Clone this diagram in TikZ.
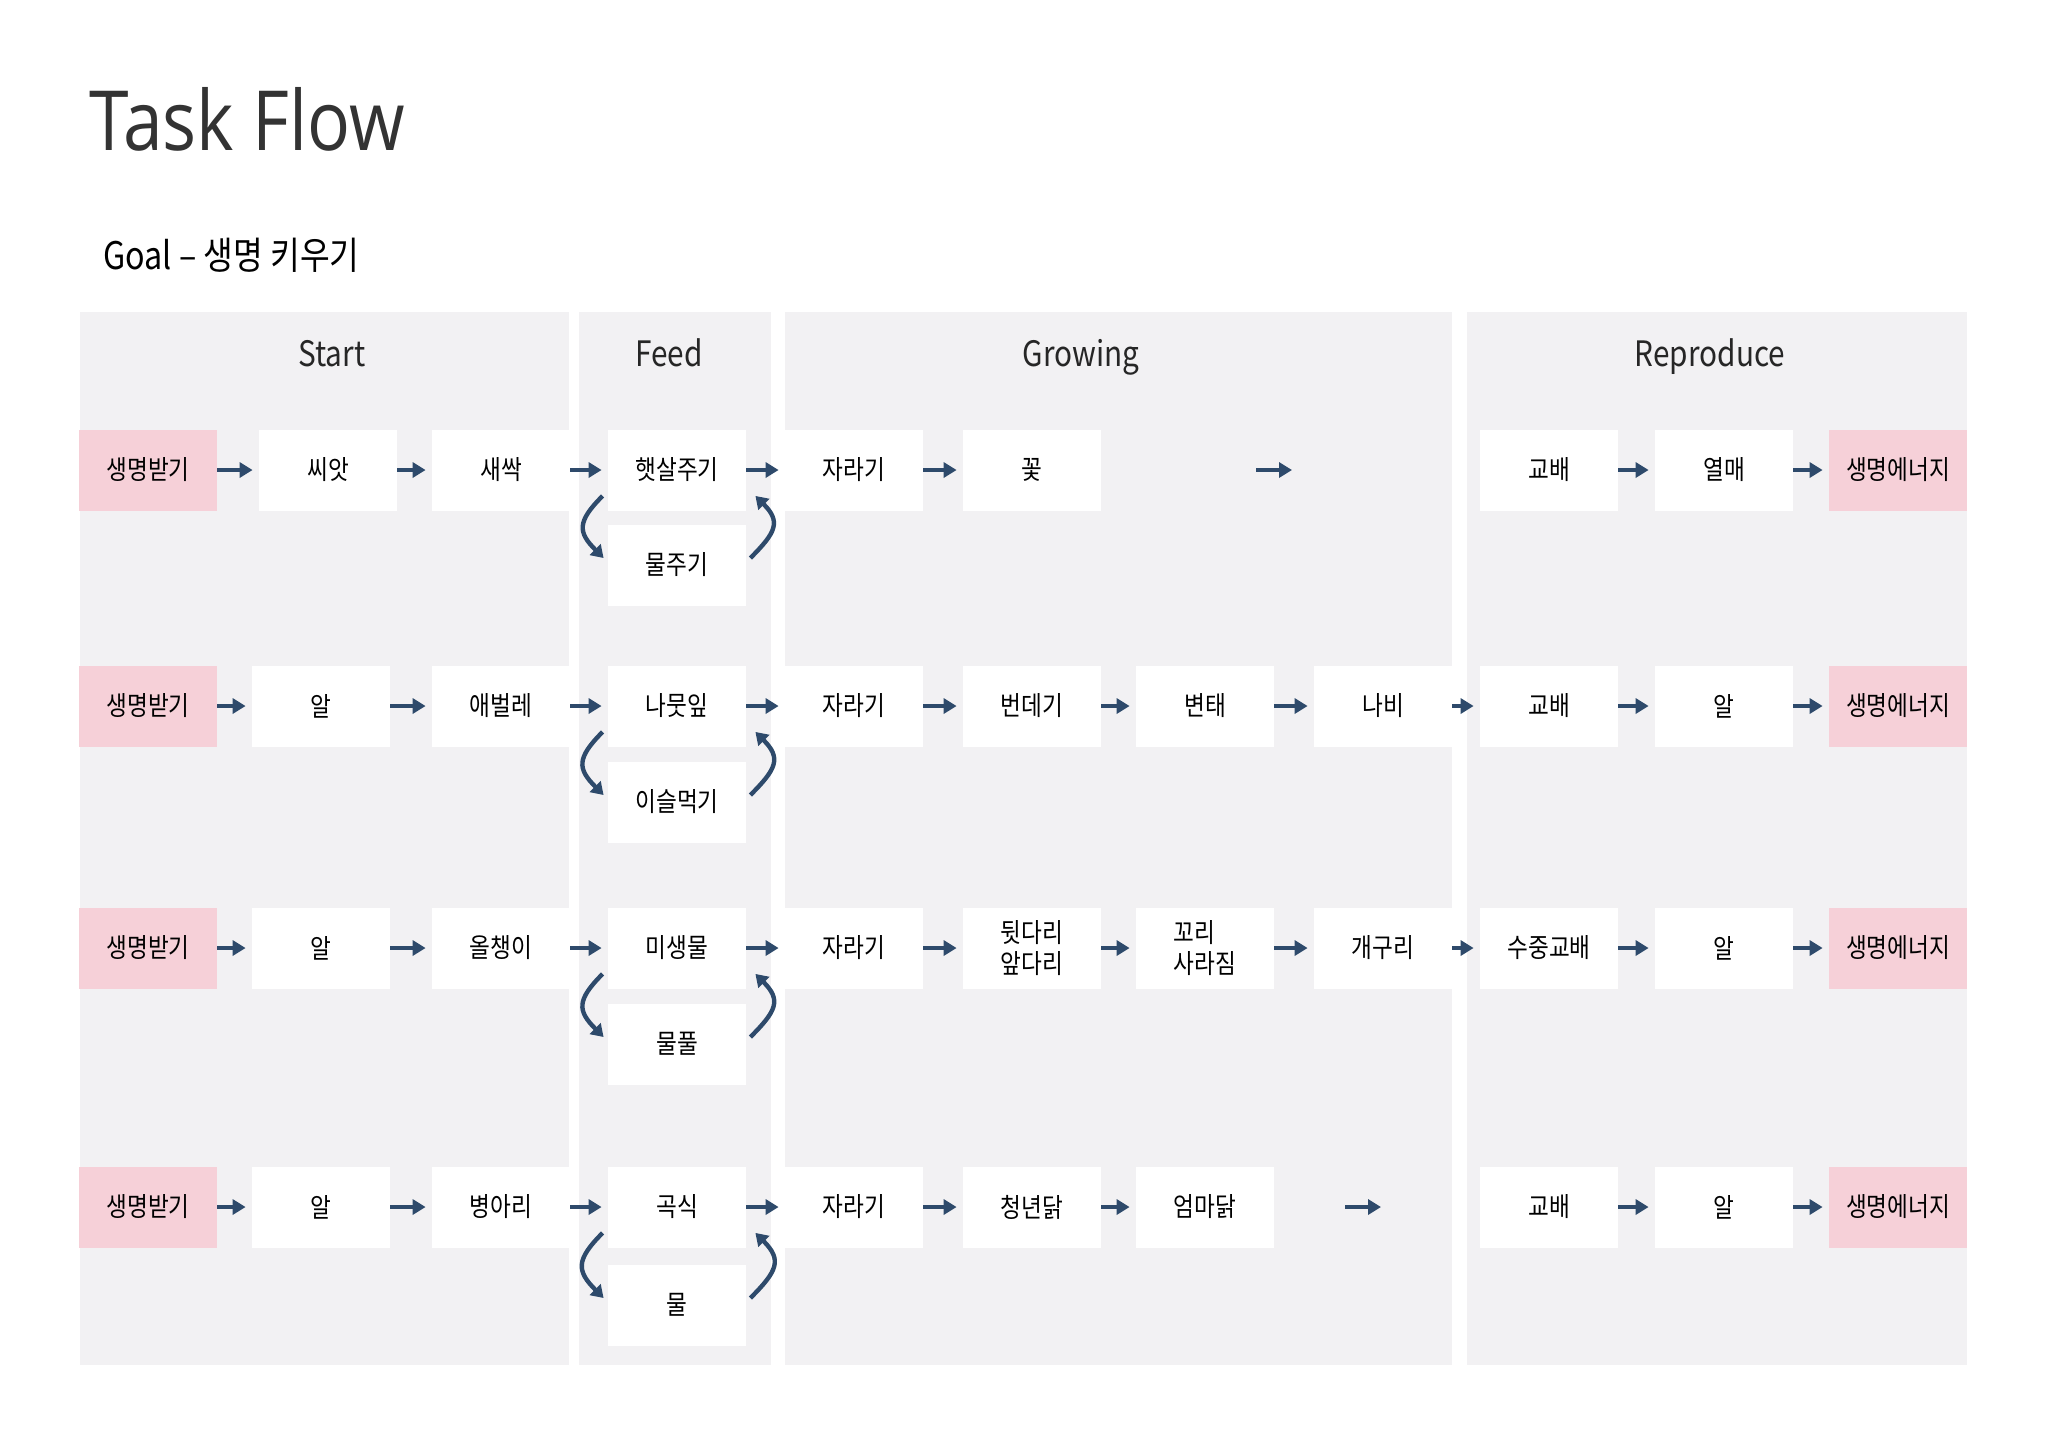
\documentclass[tikz,border=0pt]{standalone}
\usepackage{fontspec}
\setmainfont[FakeStretch=0.85]{Noto Sans CJK KR}
\newfontfamily\titlefont[FakeStretch=0.86]{Open Sans}
\usetikzlibrary{arrows.meta}
\definecolor{panelgray}{HTML}{F2F1F3}
\definecolor{lifepink}{HTML}{F6D0D8}
\definecolor{flowblue}{HTML}{2E4A6B}
\begin{document}
\begin{tikzpicture}[x=0.5pt,y=-0.5pt,
  box/.style={fill=white,minimum width=69pt,minimum height=40.5pt,inner sep=0pt,
    font=\fontsize{13.3}{15.5}\selectfont,text=black},
  life/.style={box,fill=lifepink},
  panel/.style={fill=panelgray},
  phase/.style={anchor=base,font=\fontsize{17.5}{21}\selectfont,text=black!85},
  flowarrow/.style={-{Triangle[length=6.5pt,width=7.5pt]},line width=2.4pt,draw=flowblue,shorten >=3pt},
  feedloop/.style={-{Triangle[length=6pt,width=7.5pt]},line width=2.2pt,draw=flowblue,looseness=1.5}]
\useasboundingbox (0,0) rectangle (2048,1448);
\fill[white] (0,0) rectangle (2048,1448);
% title
\node[anchor=base west,inner sep=0pt,text=black!80,font=\titlefont\fontsize{41.5}{45}\selectfont] (title) at (89,150) {Task Flow};
\node[anchor=base west,inner sep=0pt,font=\fontsize{19}{23}\selectfont] (goal) at (103,269) {Goal – 생명 키우기};
% panels
\fill[panel] (80,312) rectangle (569,1365);
\fill[panel] (579,312) rectangle (771,1365);
\fill[panel] (785,312) rectangle (1452,1365);
\fill[panel] (1467,312) rectangle (1967,1365);
\node[phase] (pstart) at (332,366) {Start};
\node[phase] (pfeed) at (669,366) {Feed};
\node[phase] (pgrow) at (1081,366) {Growing};
\node[phase] (prepro) at (1710,366) {Reproduce};

% row 1 - plant
\node[life] (lifeA) at (148,470) {생명받기};
\node[box] (seed) at (328,470) {씨앗};
\node[box] (sprout) at (501,470) {새싹};
\node[box] (sun) at (677,470) {햇살주기};
\node[box] (water) at (677,565) {물주기};
\node[box] (growA) at (854,470) {자라기};
\node[box] (flower) at (1032,470) {꽃};
\coordinate (gapA) at (1256,470);
\coordinate (gapB) at (1298,470);
\node[box] (mateA) at (1549,470) {교배};
\node[box] (fruit) at (1724,470) {열매};
\node[life] (energyA) at (1898,470) {생명에너지};
\draw[flowarrow] (lifeA) -- (seed);
\draw[flowarrow] (seed) -- (sprout);
\draw[flowarrow] (sprout) -- (sun);
\draw[flowarrow] (sun) -- (growA);
\draw[flowarrow] (growA) -- (flower);
\draw[flowarrow] (gapA) -- (gapB);
\draw[flowarrow] (mateA) -- (fruit);
\draw[flowarrow] (fruit) -- (energyA);
\draw[feedloop] ([xshift=-2.5pt,yshift=7.5pt]sun.south west) to[out=-135,in=135] ([xshift=-2pt,yshift=3.5pt]water.west);
\draw[feedloop] ([xshift=2pt,yshift=3.5pt]water.east) to[out=45,in=-45] ([xshift=4.5pt,yshift=7.5pt]sun.south east);

% row 2 - butterfly
\node[life] (lifeB) at (148,706) {생명받기};
\node[box] (eggB) at (321,706) {알};
\node[box] (larva) at (501,706) {애벌레};
\node[box] (leaf) at (677,706) {나뭇잎};
\node[box] (dew) at (677,802) {이슬먹기};
\node[box] (growB) at (854,706) {자라기};
\node[box] (pupa) at (1032,706) {번데기};
\node[box] (change) at (1205,706) {변태};
\node[box] (butterfly) at (1383,706) {나비};
\node[box] (mateB) at (1549,706) {교배};
\node[box] (layB) at (1724,706) {알};
\node[life] (energyB) at (1898,706) {생명에너지};
\draw[flowarrow] (lifeB) -- (eggB);
\draw[flowarrow] (eggB) -- (larva);
\draw[flowarrow] (larva) -- (leaf);
\draw[flowarrow] (leaf) -- (growB);
\draw[flowarrow] (growB) -- (pupa);
\draw[flowarrow] (pupa) -- (change);
\draw[flowarrow] (change) -- (butterfly);
\draw[flowarrow] (butterfly) -- (mateB);
\draw[flowarrow] (mateB) -- (layB);
\draw[flowarrow] (layB) -- (energyB);
\draw[feedloop] ([xshift=-2.5pt,yshift=7.5pt]leaf.south west) to[out=-135,in=135] ([xshift=-2pt,yshift=3.5pt]dew.west);
\draw[feedloop] ([xshift=2pt,yshift=3.5pt]dew.east) to[out=45,in=-45] ([xshift=4.5pt,yshift=7.5pt]leaf.south east);

% row 3 - frog
\node[life] (lifeC) at (148,948) {생명받기};
\node[box] (eggC) at (321,948) {알};
\node[box] (tadpole) at (501,948) {올챙이};
\node[box] (microbe) at (677,948) {미생물};
\node[box] (weed) at (677,1044) {물풀};
\node[box] (growC) at (854,948) {자라기};
\node[box,align=left] (legs) at (1032,948) {뒷다리\\앞다리};
\node[box,align=left] (tail) at (1205,948) {꼬리\\사라짐};
\node[box] (frog) at (1383,948) {개구리};
\node[box] (mateC) at (1549,948) {수중교배};
\node[box] (layC) at (1724,948) {알};
\node[life] (energyC) at (1898,948) {생명에너지};
\draw[flowarrow] (lifeC) -- (eggC);
\draw[flowarrow] (eggC) -- (tadpole);
\draw[flowarrow] (tadpole) -- (microbe);
\draw[flowarrow] (microbe) -- (growC);
\draw[flowarrow] (growC) -- (legs);
\draw[flowarrow] (legs) -- (tail);
\draw[flowarrow] (tail) -- (frog);
\draw[flowarrow] (frog) -- (mateC);
\draw[flowarrow] (mateC) -- (layC);
\draw[flowarrow] (layC) -- (energyC);
\draw[feedloop] ([xshift=-2.5pt,yshift=7.5pt]microbe.south west) to[out=-135,in=135] ([xshift=-2pt,yshift=3.5pt]weed.west);
\draw[feedloop] ([xshift=2pt,yshift=3.5pt]weed.east) to[out=45,in=-45] ([xshift=4.5pt,yshift=7.5pt]microbe.south east);

% row 4 - chicken
\node[life] (lifeD) at (148,1207) {생명받기};
\node[box] (eggD) at (321,1207) {알};
\node[box] (chick) at (501,1207) {병아리};
\node[box] (grain) at (677,1207) {곡식};
\node[box] (drink) at (677,1305) {물};
\node[box] (growD) at (854,1207) {자라기};
\node[box] (young) at (1032,1207) {청년닭};
\node[box] (hen) at (1205,1207) {엄마닭};
\coordinate (gapC) at (1345,1207);
\coordinate (gapD) at (1387,1207);
\node[box] (mateD) at (1549,1207) {교배};
\node[box] (layD) at (1724,1207) {알};
\node[life] (energyD) at (1898,1207) {생명에너지};
\draw[flowarrow] (lifeD) -- (eggD);
\draw[flowarrow] (eggD) -- (chick);
\draw[flowarrow] (chick) -- (grain);
\draw[flowarrow] (grain) -- (growD);
\draw[flowarrow] (growD) -- (young);
\draw[flowarrow] (young) -- (hen);
\draw[flowarrow] (gapC) -- (gapD);
\draw[flowarrow] (mateD) -- (layD);
\draw[flowarrow] (layD) -- (energyD);
\draw[feedloop] ([xshift=-2.5pt,yshift=7.5pt]grain.south west) to[out=-135,in=135] ([xshift=-2pt,yshift=3.5pt]drink.west);
\draw[feedloop] ([xshift=2pt,yshift=3.5pt]drink.east) to[out=45,in=-45] ([xshift=4.5pt,yshift=7.5pt]grain.south east);
\end{tikzpicture}
\end{document}
